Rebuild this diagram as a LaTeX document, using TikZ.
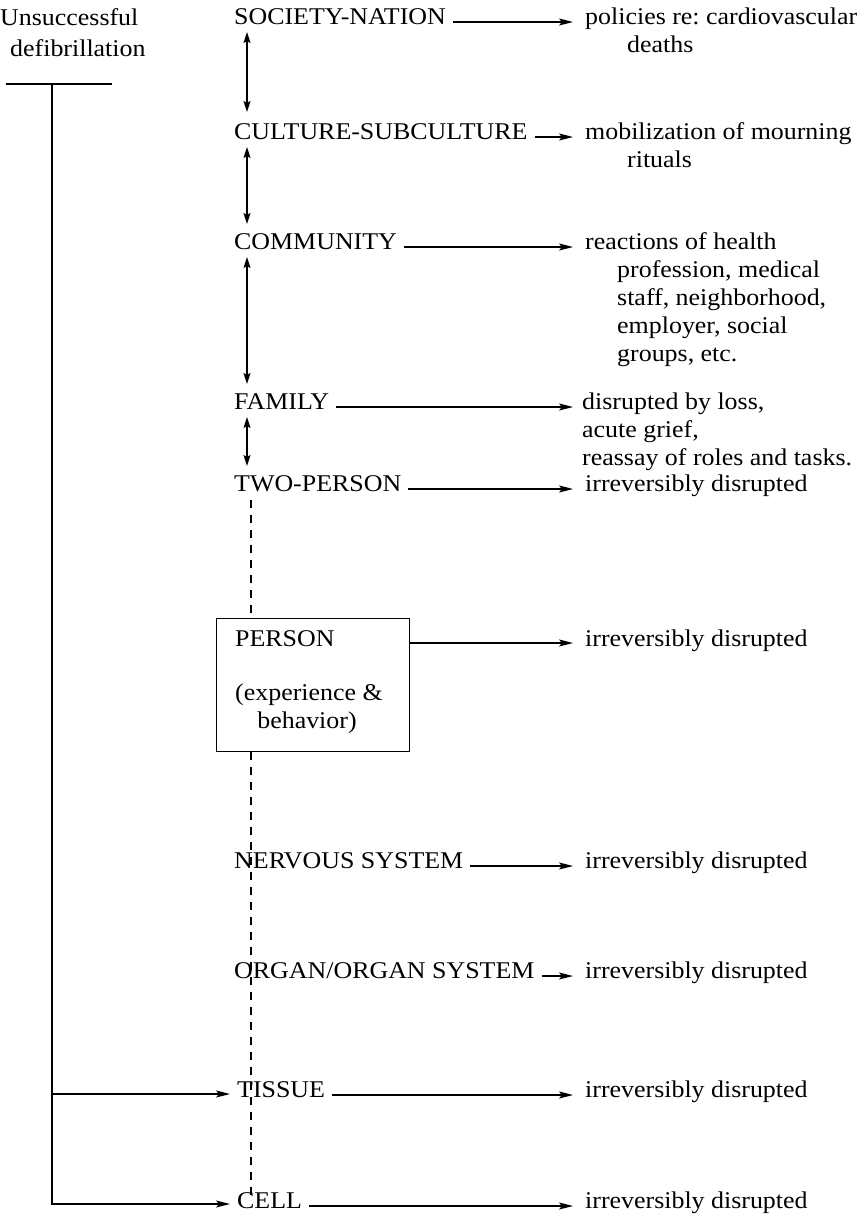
\documentclass[tikz,border=0pt]{standalone}
\usepackage{fontspec}
\setmainfont[FakeStretch=1.08]{Liberation Serif}
\usetikzlibrary{arrows.meta,calc}
\frenchspacing
\begin{document}
\begin{tikzpicture}[x=1pt,y=-1pt,
  every node/.style={inner sep=0pt, font=\fontsize{24}{28}\selectfont},
  level/.style={anchor=base west},
  effect/.style={anchor=base west},
  plain/.style={line width=1.3pt},
  link/.style={plain, -{Stealth[length=14pt,width=7pt,inset=3pt]}, shorten <=7pt, shorten >=12pt},
  updown/.style={plain, {Stealth[length=11pt,width=7pt,inset=2pt]}-{Stealth[length=11pt,width=7pt,inset=2pt]}},
  rail/.style={plain, dash pattern=on 8pt off 7pt},
  personbox/.style={draw, line width=1.3pt, minimum width=193pt, minimum height=133pt, anchor=north west}
]
\useasboundingbox (0,0) rectangle (864,1216);

% trigger on the left
\node[anchor=base west] (cause) at (0,25)
  {\begin{tabular}[t]{@{}l@{}}Unsuccessful\\[3pt]\hspace*{10pt}defibrillation\end{tabular}};
\coordinate (tl) at (6,84);
\coordinate (tr) at (112,84);
\coordinate (tj) at (52,84);

% system levels
\node[level] (soc) at (234,24) {SOCIETY-NATION};
\node[level] (cul) at (234,139) {CULTURE-SUBCULTURE};
\node[level] (com) at (234,249) {COMMUNITY};
\node[level] (fam) at (234,409) {FAMILY};
\node[level] (two) at (234,491) {TWO-PERSON};
\node[personbox] (per) at (216,618) {};
\node[level] (perA) at (235,646) {PERSON};
\node[level] (perB) at (235,700) {(experience \&};
\node[anchor=base] (perC) at (307,728) {behavior)};
\node[level] (ner) at (234,868) {NERVOUS SYSTEM};
\node[level] (org) at (234,978) {ORGAN/ORGAN SYSTEM};
\node[level] (tis) at (237,1097) {TISSUE};
\node[level] (cel) at (237,1208) {CELL};

% consequences
\node[effect] (pol) at (585,24)
  {\begin{tabular}[t]{@{}l@{}}policies re: cardiovascular\\\hspace*{42pt}deaths\end{tabular}};
\node[effect] (mob) at (585,139)
  {\begin{tabular}[t]{@{}l@{}}mobilization of mourning\\\hspace*{42pt}rituals\end{tabular}};
\node[effect] (rea) at (585,249)
  {\begin{tabular}[t]{@{}l@{}}reactions of health\\\hspace*{32pt}profession, medical\\\hspace*{32pt}staff, neighborhood,\\\hspace*{32pt}employer, social\\\hspace*{32pt}groups, etc.\end{tabular}};
\node[effect] (dis) at (582,409)
  {\begin{tabular}[t]{@{}l@{}}disrupted by loss,\\acute grief,\\reassay of roles and tasks.\end{tabular}};
\node[effect] (twoE) at (585,491) {irreversibly disrupted};
\node[effect] (perE) at (585,646) {irreversibly disrupted};
\node[effect] (nerE) at (585,868) {irreversibly disrupted};
\node[effect] (orgE) at (585,978) {irreversibly disrupted};
\node[effect] (tisE) at (585,1097) {irreversibly disrupted};
\node[effect] (celE) at (585,1208) {irreversibly disrupted};

% links between neighbouring levels
\coordinate (ax) at (247,0);
\draw[updown] ($(soc.base -| ax)+(0,8)$) -- ($(cul.base -| ax)+(0,-27)$);
\draw[updown] ($(cul.base -| ax)+(0,8)$) -- ($(com.base -| ax)+(0,-25)$);
\draw[updown] ($(com.base -| ax)+(0,8)$) -- ($(fam.base -| ax)+(0,-25)$);
\draw[updown] ($(fam.base -| ax)+(0,8)$) -- ($(two.base -| ax)+(0,-25)$);

% dashed rail through the lower levels
\coordinate (rx) at (251,0);
\draw[rail] ($(two.base -| rx)+(0,9)$) -- (per.north -| rx);
\draw[rail] (per.south -| rx) -- ($(cel.base -| rx)+(0,-10)$);

% level -> consequence
\draw[link] ([yshift=2pt]soc.base east) -- ([yshift=2pt]pol.base west);
\draw[link] ([yshift=2pt]cul.base east) -- ([yshift=2pt]mob.base west);
\draw[link] ([yshift=2pt]com.base east) -- ([yshift=2pt]rea.base west);
\draw[link, shorten >=9pt] ([yshift=2pt]fam.base east) -- ([yshift=2pt]dis.base west);
\draw[link] ([yshift=2pt]two.base east) -- ([yshift=2pt]twoE.base west);
\draw[link, shorten <=0pt] ($(per.east |- perE.base)+(0,-3)$) -- ($(perE.base west)+(0,-3)$);
\draw[link] ([yshift=2pt]ner.base east) -- ([yshift=2pt]nerE.base west);
\draw[link] ([yshift=2pt]org.base east) -- ([yshift=2pt]orgE.base west);
\draw[link] ([yshift=2pt]tis.base east) -- ([yshift=2pt]tisE.base west);
\draw[link] ([yshift=2pt]cel.base east) -- ([yshift=2pt]celE.base west);

% the T bar and the branches into the tissue and cell levels
\draw[plain] (tl) -- (tr);
\draw[link, shorten <=0pt, shorten >=7pt] (tj) |- ($(cel.base west)+(0,-4)$);
\draw[link, shorten <=0pt, shorten >=7pt] ($(tj |- tis.base)+(0,-3)$) -- ($(tis.base west)+(0,-3)$);
\end{tikzpicture}
\end{document}
